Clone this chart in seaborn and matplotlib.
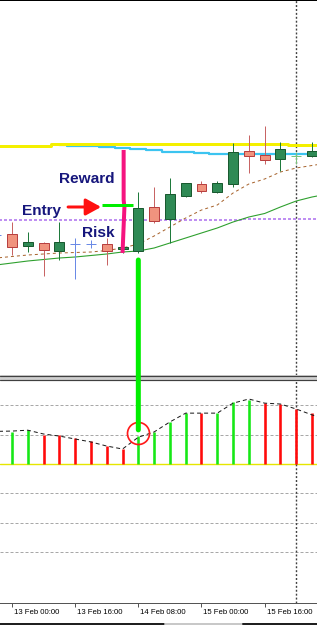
import matplotlib
matplotlib.use("Agg")
import matplotlib.pyplot as plt
import matplotlib.transforms as mtransforms
from matplotlib.patches import ConnectionPatch, Rectangle
from matplotlib.lines import Line2D
from matplotlib import font_manager as fm
import seaborn as sns

# ---------------- data ----------------
candle_idx = list(range(-1, 20))
opens  = [1.3565, 1.3566, 1.3554, 1.3557, 1.3549, 1.3556, 1.3556, 1.3556, 1.3551, 1.3549,
          1.3593, 1.3581, 1.3604, 1.3616, 1.3608, 1.3616, 1.3649, 1.3645, 1.3641, 1.3644, 1.3644]
highs  = [1.3570, 1.3578, 1.3568, 1.3558, 1.3578, 1.3562, 1.3560, 1.3562, 1.3555, 1.3608,
          1.3613, 1.3622, 1.3617, 1.3619, 1.3619, 1.3657, 1.3665, 1.3674, 1.3658, 1.3648, 1.3658]
lows   = [1.3560, 1.3545, 1.3548, 1.3524, 1.3540, 1.3521, 1.3552, 1.3535, 1.3547, 1.3547,
          1.3577, 1.3557, 1.3603, 1.3607, 1.3607, 1.3613, 1.3627, 1.3636, 1.3629, 1.3636, 1.3643]
closes = [1.3565, 1.3553, 1.3558, 1.3550, 1.3558, 1.3556, 1.3556, 1.3549, 1.3553, 1.3592,
          1.3579, 1.3606, 1.3617, 1.3609, 1.3617, 1.3648, 1.3644, 1.3640, 1.3651, 1.36445, 1.3649]

ma_idx = list(range(-1, 21))
ma_slow = [1.3535, 1.3537, 1.3539, 1.35405, 1.3542, 1.3543, 1.35445, 1.3546, 1.3548, 1.3549, 1.3552,
           1.3557, 1.3562, 1.3567, 1.3572, 1.3578, 1.3583, 1.35865, 1.3593, 1.3599, 1.3603, 1.3606]
ma_fast = [1.3542, 1.35435, 1.3545, 1.3546, 1.3547, 1.35475, 1.3548, 1.35495, 1.3552, 1.3556, 1.3564,
           1.3573, 1.3582, 1.3590, 1.3595, 1.3607, 1.3616, 1.3621, 1.3628, 1.3632, 1.36345, 1.3637]
level_yellow = [1.3654, 1.3654, 1.3654, 1.3654, 1.3656, 1.3656, 1.3656, 1.3656, 1.3656, 1.3656, 1.3656,
                1.3656, 1.3656, 1.3656, 1.3656, 1.3656, 1.3656, 1.3656, 1.3656, 1.3655, 1.3655, 1.3655]
level_purple = [1.3580, 1.3580, 1.3580, 1.3580, 1.3580, 1.3580, 1.3580, 1.3580, 1.3580, 1.3580, 1.3580,
                1.3580, 1.3580, 1.3580, 1.3580, 1.3580, 1.3581, 1.3581, 1.3581, 1.3581, 1.3581, 1.3581]
cyan_idx = list(range(3, 21))
level_cyan = [1.3655, 1.36545, 1.3654, 1.3653, 1.3652, 1.3651, 1.3650, 1.36485, 1.3648,
              1.3647, 1.3646, 1.3646, 1.3646, 1.3646, 1.3646, 1.3646, 1.36465, 1.36465]

osc_idx = list(range(0, 20))
osc_hist = [10.9, 11.6, 9.9, 9.8, 8.8, 7.8, 6.1, 5.1, 9.5, 10.9,
            14.3, 17.3, 17.2, 17.4, 21.1, 21.8, 20.7, 20.4, 18.7, 17.3]
sig_idx = list(range(-1, 21))
osc_signal = [11.1, 11.2, 11.5, 10.2, 9.5, 8.5, 7.5, 6.1, 5.1, 9.1, 10.9,
              14.3, 17.3, 17.3, 17.3, 20.7, 22.1, 20.7, 20.4, 18.7, 16.7, 15.0]
osc_levels = [20, 10, -10, -20, -30]

tick_idx = [0, 4, 8, 12, 16]
tick_labels = ["13 Feb 00:00", "13 Feb 16:00", "14 Feb 08:00", "15 Feb 00:00", "15 Feb 16:00"]

cursor_idx = 18
entry_idx = 8
entry_price = 1.3595
reward_price = 1.3650
risk_price = 1.3547

# ---------------- figure ----------------
W, H, DPI = 317, 625, 100
sns.set_style("white")
plt.rcParams["font.family"] = ["Liberation Sans", "DejaVu Sans"]
PT = 72.0 / DPI  # points per pixel

fig = plt.figure(figsize=(W / DPI, H / DPI), dpi=DPI, facecolor="white")
ax = fig.add_axes([0, (H - 375) / H, 1, 375 / H])
ax2 = fig.add_axes([0, (H - 603) / H, 1, (603 - 380) / H])

xlim = (-0.76, -0.76 + W / 15.79)
for a in (ax, ax2):
    a.set_xlim(*xlim)
    a.set_facecolor("white")
    a.set_yticks([])
ax.set_ylim(1.3425, 1.3800)
ax2.set_ylim(-(603 - 464) / 2.94, (464 - 380) / 2.94)

for s in ("left", "right", "bottom"):
    ax.spines[s].set_visible(False)
ax.spines["top"].set_color("black")
ax.spines["top"].set_linewidth(2 * PT)
ax.set_xticks([])
for s in ("left", "right", "top"):
    ax2.spines[s].set_visible(False)
ax2.spines["bottom"].set_color("#555555")
ax2.spines["bottom"].set_linewidth(1 * PT)

# ---- moving averages / levels (seaborn) ----
sns.lineplot(x=cyan_idx, y=level_cyan, ax=ax, color="#3cc4f0", linewidth=2.2 * PT,
             drawstyle="steps-mid", estimator=None, legend=False, zorder=2)
sns.lineplot(x=ma_idx, y=level_yellow, ax=ax, color="#f4f000", linewidth=3 * PT,
             drawstyle="steps-mid", estimator=None, legend=False, zorder=2.5)
sns.lineplot(x=ma_idx, y=level_purple, ax=ax, color="#bf8ff2", linewidth=2 * PT,
             linestyle=(0, (1.5, 1.0)), drawstyle="steps-mid", estimator=None,
             legend=False, zorder=2)
sns.lineplot(x=ma_idx, y=ma_slow, ax=ax, color="#2ea02e", linewidth=1.1 * PT,
             estimator=None, legend=False, zorder=2)
sns.lineplot(x=ma_idx, y=ma_fast, ax=ax, color="#a8642e", linewidth=1 * PT,
             linestyle=(0, (3, 3)), estimator=None, legend=False, zorder=2)

# ---- candles ----
body_w = 0.63
for i, o, h, l, c in zip(candle_idx, opens, highs, lows, closes):
    if abs(c - o) < 0.0001:
        col = "#6a8ae6" if c == o else "#7cc47c"
        ax.vlines(i, l, h, color=col, linewidth=1 * PT, zorder=3)
        ax.hlines(o, i - 0.3, i + 0.3, color=col, linewidth=1 * PT, zorder=3)
        continue
    if c > o:
        face, edge, wick = "#2f8a55", "#1a5a30", "#1f7a3c"
    else:
        face, edge, wick = "#f0937e", "#b84040", "#c86464"
    ax.vlines(i, l, h, color=wick, linewidth=1 * PT, zorder=3)
    ax.bar(i, abs(c - o), bottom=min(o, c), width=body_w, color=face,
           edgecolor=edge, linewidth=1 * PT, zorder=3.1)

# ---- oscillator panel ----
ax2.axhline(0, color="#e6e600", linewidth=1.4 * PT, zorder=1)
for lv in osc_levels:
    ax2.axhline(lv, color="#a8a8a8", linewidth=1 * PT, linestyle=(0, (3, 2)), zorder=1)
prev = None
for i, v in zip(osc_idx, osc_hist):
    up = prev is None or v >= prev
    ax2.vlines(i, 0, v, color="#16e816" if up else "#ff0a0a", linewidth=2.6 * PT, zorder=2)
    prev = v
sns.lineplot(x=sig_idx, y=osc_signal, ax=ax2, color="#1a1a1a", linewidth=1 * PT,
             linestyle=(0, (4, 3)), estimator=None, legend=False, zorder=3)

# vertical cursor line
for a in (ax, ax2):
    a.axvline(cursor_idx, color="#404040", linewidth=1.4 * PT,
              linestyle=(0, (1.4, 1.4)), zorder=1.5)

# x tick labels
names = {f.name for f in fm.fontManager.ttflist}
if "Liberation Sans Narrow" in names:
    lab_font, lab_size = "Liberation Sans Narrow", 6.2
else:
    lab_font, lab_size = "Liberation Sans", 5.6
ax2.set_xticks(tick_idx)
ax2.set_xticklabels(tick_labels, fontsize=lab_size, family=[lab_font, "DejaVu Sans"], color="black")
ax2.tick_params(axis="x", direction="out", length=4 * PT, width=1 * PT,
                color="#555555", pad=1.6, bottom=True)
offset = mtransforms.ScaledTranslation(2 / DPI, 0, fig.dpi_scale_trans)
for lab in ax2.get_xticklabels():
    lab.set_horizontalalignment("left")
    lab.set_transform(lab.get_transform() + offset)

# ---- annotations ----
ax.plot([7.07, 7.07, 7.12, 7.00], [reward_price, 1.3600, 1.3593, risk_price],
        color="#f5147f", linewidth=4 * PT, solid_capstyle="butt", zorder=6)
ax.plot([5.70, 7.66], [entry_price, entry_price], color="#00ee00",
        linewidth=3 * PT, solid_capstyle="butt", zorder=6)
ax.annotate("", xy=(5.64, 1.3593), xytext=(3.55, 1.3593),
            arrowprops=dict(arrowstyle="-|>,head_length=0.4,head_width=0.22",
                            color="#ff1010", lw=3 * PT, shrinkA=0, shrinkB=0,
                            mutation_scale=23), zorder=6)
txt_kw = dict(color="#16167c", fontsize=11.1, fontweight="bold", va="baseline", zorder=7)
ax.text(6.52, 1.3617, "Reward", ha="right", **txt_kw)
ax.text(0.61, 1.3585, "Entry", ha="left", **txt_kw)
ax.text(6.52, 1.3563, "Risk", ha="right", **txt_kw)

con = ConnectionPatch(xyA=(entry_idx, 1.3540), coordsA=ax.transData,
                      xyB=(entry_idx, 11.6), coordsB=ax2.transData,
                      color="#00ee00", linewidth=5 * PT, zorder=4)
fig.add_artist(con)
ax2.plot([entry_idx], [10.5], marker="o", markersize=22 * PT, markerfacecolor="none",
         markeredgecolor="#ff1a1a", markeredgewidth=1.7 * PT, zorder=7)

# ---- separator between panels and window bottom strip ----
fig.add_artist(Rectangle((0, (H - 380) / H), 1, 5 / H, transform=fig.transFigure,
                         facecolor="#d0d0d0", edgecolor="none", zorder=1.5))
for yy in (375.5, 379.5):
    fig.add_artist(Line2D([0, 1], [(H - yy) / H] * 2, transform=fig.transFigure,
                          color="#404040", linewidth=1.2 * PT, zorder=1.6))
for x0, x1, col in ((0, 165, "#202020"), (165, 243, "#c8c8c8"), (243, W, "#202020")):
    fig.add_artist(Line2D([x0 / W, x1 / W], [(H - 623.5) / H] * 2, transform=fig.transFigure,
                          color=col, linewidth=2 * PT, zorder=1.6))

fig.savefig("out.png", dpi=DPI, facecolor="white")
